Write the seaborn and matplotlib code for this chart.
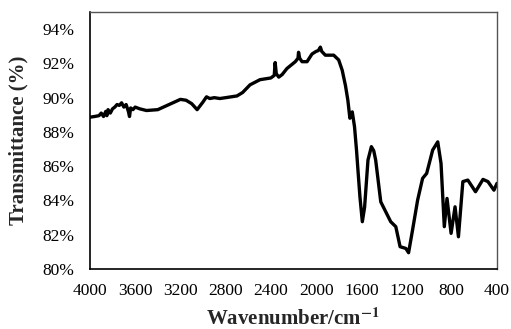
import matplotlib
matplotlib.use("Agg")
import matplotlib.pyplot as plt
import seaborn as sns
import pandas as pd
from matplotlib.ticker import PercentFormatter, MultipleLocator

wavenumber = [4000, 3960, 3920, 3900, 3880, 3860, 3850, 3840, 3820, 3800, 3780, 3760,
              3740, 3720, 3700, 3680, 3660, 3650, 3640, 3620, 3600, 3560, 3500, 3400,
              3300, 3200, 3150, 3100, 3052, 3000, 2969, 2940, 2900, 2851, 2800, 2700,
              2650, 2584, 2496, 2400, 2370, 2362, 2352, 2330, 2300, 2258, 2184, 2160,
              2155, 2145, 2124, 2080, 2036, 2000, 1980, 1962, 1950, 1918, 1844, 1800,
              1769, 1740, 1719, 1701, 1690, 1680, 1660, 1642, 1630, 1612, 1591, 1571,
              1541, 1511, 1490, 1473, 1428, 1384, 1340, 1295, 1257, 1206, 1182, 1147,
              1102, 1058, 1022, 969, 924, 895, 866, 842, 806, 771, 741, 702, 658, 590,
              524, 480, 427, 400]
transmittance = [88.86, 88.90, 88.95, 89.10, 88.90, 89.20, 88.95, 89.30, 89.10, 89.35, 89.45, 89.60,
                 89.55, 89.70, 89.45, 89.60, 89.20, 88.90, 89.40, 89.30, 89.45, 89.35, 89.25, 89.30,
                 89.60, 89.90, 89.85, 89.65, 89.30, 89.75, 90.05, 89.95, 90.00, 89.95, 90.00, 90.10,
                 90.30, 90.75, 91.05, 91.15, 91.30, 92.05, 91.40, 91.20, 91.35, 91.70, 92.10, 92.30,
                 92.65, 92.30, 92.10, 92.10, 92.55, 92.70, 92.75, 92.95, 92.70, 92.48, 92.48, 92.20,
                 91.60, 90.70, 89.85, 88.80, 89.00, 89.17, 88.30, 86.90, 85.80, 84.20, 82.76, 83.60,
                 86.36, 87.14, 86.90, 86.36, 83.92, 83.34, 82.76, 82.47, 81.30, 81.20, 80.95, 82.27,
                 84.02, 85.29, 85.58, 86.94, 87.42, 86.16, 82.47, 84.12, 82.08, 83.63, 81.88, 85.10,
                 85.19, 84.51, 85.23, 85.10, 84.60, 85.00]

xticks = [4000, 3600, 3200, 2800, 2400, 2000, 1600, 1200, 800, 400]

sns.set_theme(style="white")
plt.rcParams['font.family'] = ['Liberation Serif', 'DejaVu Serif']
plt.rcParams['mathtext.fontset'] = 'stix'

df = pd.DataFrame({"wn": wavenumber, "T": transmittance})

fig = plt.figure(figsize=(5.11, 3.29), dpi=100)
ax = fig.add_axes([0.176, 0.1824, 0.7966, 0.7811])
sns.lineplot(data=df, x="wn", y="T", color="black", linewidth=2.4, ax=ax)

ax.set_xlim(4000, 400)
ax.set_ylim(80, 95)
ax.set_xticks(xticks)
ax.set_xticklabels([str(v) for v in xticks])
ax.yaxis.set_major_locator(MultipleLocator(2))
ax.yaxis.set_major_formatter(PercentFormatter(decimals=0))
ax.tick_params(direction="in", length=4, width=1, labelsize=12.5, colors="black")
ax.tick_params(axis="x", pad=10)
ax.tick_params(axis="y", pad=11)

for s in ["left", "bottom"]:
    ax.spines[s].set_color("black")
    ax.spines[s].set_linewidth(1.2)
for s in ["top", "right"]:
    ax.spines[s].set_color("#555555")
    ax.spines[s].set_linewidth(1.0)

ax.set_xlabel("Wavenumber/cm$^{\\mathbf{-1}}$", fontsize=15, fontweight="bold", labelpad=7)
ax.set_ylabel("Transmittance (%)", fontsize=15, fontweight="bold", labelpad=10)

fig.savefig("out.png", dpi=100)
